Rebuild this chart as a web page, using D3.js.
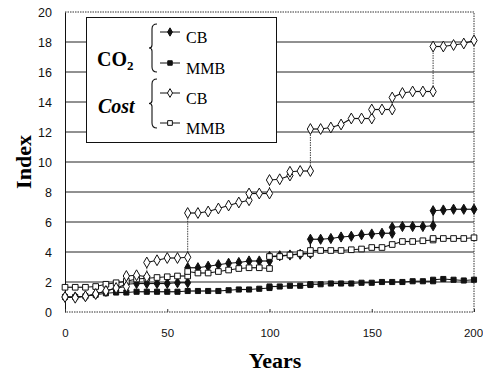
<!DOCTYPE html>
<html>
<head>
<meta charset="utf-8">
<script src="https://cdn.jsdelivr.net/npm/d3@7"></script>
<style>
    body { margin: 0; background: #fff; }
    svg { display: block; }
    .tick text { font-family: "Liberation Sans", Arial, sans-serif; fill: #111; }
    .y-axis .tick text { font-size: 12.5px; }
    .x-axis .tick text { font-size: 11.5px; }
</style>
</head>
<body>
<svg id="chart" width="483" height="373"></svg>
<script>
// [year, index] pairs, repeated years are the vertical steps
const co2CB = [[0,1.0],[5,1.0],[10,1.05],[15,1.2],[20,1.4],[25,1.6],[30,1.85],[35,1.9],[40,1.9],[45,1.9],[50,1.9],[55,1.95],[60,1.95],[60,2.95],[65,2.95],[70,3.05],[75,3.15],[80,3.25],[85,3.3],[90,3.4],[95,3.4],[100,3.4],[100,3.7],[105,3.75],[110,3.8],[115,3.85],[120,3.9],[120,4.85],[125,4.85],[130,4.9],[135,5.0],[140,5.05],[145,5.15],[150,5.2],[155,5.25],[160,5.25],[160,5.65],[165,5.7],[170,5.7],[175,5.7],[180,5.75],[180,6.75],[185,6.8],[190,6.85],[195,6.85],[200,6.85]];
const co2MMB = [[0,1.0],[5,1.0],[10,1.05],[15,1.15],[20,1.25],[25,1.3],[30,1.3],[35,1.35],[40,1.35],[45,1.35],[50,1.35],[55,1.35],[60,1.4],[65,1.4],[70,1.4],[75,1.4],[80,1.45],[85,1.5],[90,1.5],[95,1.55],[100,1.6],[100,1.7],[105,1.7],[110,1.75],[115,1.75],[120,1.8],[120,1.85],[125,1.85],[130,1.9],[135,1.9],[140,1.9],[145,1.95],[150,1.95],[155,2.0],[160,2.0],[165,2.0],[170,2.05],[175,2.05],[180,2.05],[180,2.15],[185,2.2],[190,2.15],[195,2.1],[200,2.15]];
const costCB = [[0,1.0],[5,0.95],[10,1.05],[15,1.2],[20,1.4],[25,1.6],[30,1.7],[30,2.4],[35,2.45],[40,2.35],[40,3.3],[45,3.45],[50,3.6],[55,3.6],[60,3.65],[60,6.6],[65,6.6],[70,6.7],[75,6.9],[80,7.1],[85,7.3],[90,7.45],[90,7.9],[95,7.9],[100,7.9],[100,8.8],[105,8.85],[110,9.1],[110,9.35],[115,9.4],[120,9.4],[120,12.2],[125,12.2],[130,12.3],[135,12.5],[140,12.9],[145,12.9],[150,12.9],[150,13.5],[155,13.5],[160,13.5],[160,14.3],[165,14.6],[170,14.7],[175,14.7],[180,14.7],[180,17.7],[185,17.7],[190,17.8],[195,17.9],[200,18.1]];
const costMMB = [[0,1.65],[5,1.65],[10,1.65],[15,1.7],[20,1.85],[25,1.95],[30,2.05],[35,2.2],[40,2.25],[45,2.3],[50,2.35],[55,2.4],[60,2.4],[60,2.7],[65,2.6],[70,2.6],[75,2.7],[80,2.8],[85,2.9],[90,2.95],[95,2.95],[100,2.9],[100,3.7],[105,3.7],[110,3.8],[115,3.9],[120,3.9],[120,4.1],[125,4.1],[130,4.1],[135,4.1],[140,4.15],[145,4.2],[150,4.3],[155,4.3],[160,4.5],[165,4.7],[170,4.7],[175,4.75],[180,4.8],[180,4.9],[185,4.9],[190,4.9],[195,4.9],[200,4.95]];

const yTicks = [0, 2, 4, 6, 8, 10, 12, 14, 16, 18, 20];
const xTicks = [0, 50, 100, 150, 200];
const legendItems = [
    { label: 'CB', marker: 'diamond', filled: true },
    { label: 'MMB', marker: 'square', filled: true },
    { label: 'CB', marker: 'diamond', filled: false },
    { label: 'MMB', marker: 'square', filled: false }
];

const svg = d3.select('#chart');
const plotLeft = 65, plotRight = 474, plotTop = 12, plotBottom = 312;

const x = d3.scaleLinear().domain([0, 200]).range([plotLeft, plotRight]);
const y = d3.scaleLinear().domain([0, 20]).range([plotBottom, plotTop]);

// grid lines
svg.append('g')
    .selectAll('line')
    .data(yTicks.filter(d => d > 0 && d < 20))
    .enter()
    .append('line')
    .attr('x1', plotLeft).attr('x2', plotRight)
    .attr('y1', d => y(d)).attr('y2', d => y(d))
    .attr('stroke', '#222')
    .attr('stroke-width', 1);

// dotted frame on top, right and bottom
svg.append('path')
    .attr('d', `M${plotLeft},${y(20)}H${plotRight}V${y(0)}H${plotLeft}`)
    .attr('fill', 'none')
    .attr('stroke', '#333')
    .attr('stroke-dasharray', '1.5,1');

const yAxis = svg.append('g')
    .attr('class', 'y-axis')
    .attr('transform', `translate(${plotLeft},0)`)
    .call(d3.axisLeft(y).tickValues(yTicks).tickSize(0).tickPadding(13).tickFormat(d3.format('d')));
yAxis.select('.domain').attr('stroke', '#111');

const xAxis = svg.append('g')
    .attr('class', 'x-axis')
    .attr('transform', `translate(0,${plotBottom})`)
    .call(d3.axisBottom(x).tickValues(xTicks).tickSizeInner(-3).tickSizeOuter(0).tickPadding(17));
xAxis.select('.domain').remove();
xAxis.selectAll('.tick line').attr('stroke', '#333');
// last label sits against the right edge
xAxis.selectAll('.tick text').filter(d => d === 200).attr('dx', -1);

function drawSeries(data, marker, filled, size) {
    const g = svg.append('g');
    // horizontal-ish segments solid, vertical jumps dotted
    for (let i = 1; i < data.length; i++) {
        const a = data[i - 1], b = data[i];
        const jump = a[0] === b[0] && Math.abs(b[1] - a[1]) > 0.5;
        g.append('line')
            .attr('x1', x(a[0])).attr('y1', y(a[1]))
            .attr('x2', x(b[0])).attr('y2', y(b[1]))
            .attr('stroke', '#111')
            .attr('stroke-width', jump && !filled ? 0.8 : 1.2)
            .attr('stroke-dasharray', jump && !filled ? '1.5,1' : null);
    }
    const type = marker === 'diamond' ? d3.symbolDiamond : d3.symbolSquare;
    g.selectAll('path.pt')
        .data(data)
        .enter()
        .append('path')
        .attr('class', 'pt')
        .attr('d', d3.symbol().type(type).size(size))
        .attr('transform', d => `translate(${x(d[0])},${y(d[1])})`)
        .attr('fill', filled ? '#111' : '#fff')
        .attr('stroke', '#111')
        .attr('stroke-width', 1);
}

drawSeries(co2MMB, 'square', true, 26);
drawSeries(co2CB, 'diamond', true, 30);
drawSeries(costMMB, 'square', false, 32);
drawSeries(costCB, 'diamond', false, 34);

// legend
const lg = svg.append('g');
lg.append('rect')
    .attr('x', 86.5).attr('y', 17.5).attr('width', 190).attr('height', 125)
    .attr('fill', '#fff').attr('stroke', '#111');

const co2Text = lg.append('text')
    .attr('x', 97).attr('y', 66)
    .style('font-family', '"Liberation Serif", "Times New Roman", serif')
    .style('font-weight', 'bold')
    .style('font-size', '20px')
    .text('CO');
co2Text.append('tspan').attr('dy', 4).style('font-size', '13px').text('2');

lg.append('text')
    .attr('x', 98).attr('y', 113)
    .style('font-family', '"Liberation Serif", "Times New Roman", serif')
    .style('font-weight', 'bold')
    .style('font-style', 'italic')
    .style('font-size', '20px')
    .text('Cost');

function brace(y0, y1) {
    const m = (y0 + y1) / 2;
    return `M157,${y0} Q152,${y0} 152,${y0 + 5} V${m - 3} Q152,${m} 149,${m} Q152,${m} 152,${m + 3} V${y1 - 5} Q152,${y1} 157,${y1}`;
}
lg.append('path').attr('d', brace(24, 72)).attr('fill', 'none').attr('stroke', '#111').attr('stroke-width', 1.1);
lg.append('path').attr('d', brace(79, 128)).attr('fill', 'none').attr('stroke', '#111').attr('stroke-width', 1.1);

const legendY = [32, 63, 93, 123];
legendItems.forEach((item, i) => {
    const ly = legendY[i];
    lg.append('line')
        .attr('x1', 160).attr('x2', 180)
        .attr('y1', ly).attr('y2', ly)
        .attr('stroke', '#111');
    lg.append('path')
        .attr('d', d3.symbol().type(item.marker === 'diamond' ? d3.symbolDiamond : d3.symbolSquare).size(item.filled ? 20 : 22))
        .attr('transform', `translate(170,${ly})`)
        .attr('fill', item.filled ? '#111' : '#fff')
        .attr('stroke', '#111');
    lg.append('text')
        .attr('x', 186).attr('y', ly + 11)
        .style('font-family', '"Liberation Serif", "Times New Roman", serif')
        .style('font-size', '16px')
        .text(item.label);
});

// axis titles
svg.append('text')
    .attr('x', 275).attr('y', 368)
    .attr('text-anchor', 'middle')
    .style('font-family', '"Liberation Serif", "Times New Roman", serif')
    .style('font-weight', 'bold')
    .style('font-size', '22px')
    .text('Years');

svg.append('text')
    .attr('transform', 'translate(31,162) rotate(-90)')
    .attr('text-anchor', 'middle')
    .style('font-family', '"Liberation Serif", "Times New Roman", serif')
    .style('font-weight', 'bold')
    .style('font-size', '22px')
    .text('Index');
</script>
</body>
</html>
